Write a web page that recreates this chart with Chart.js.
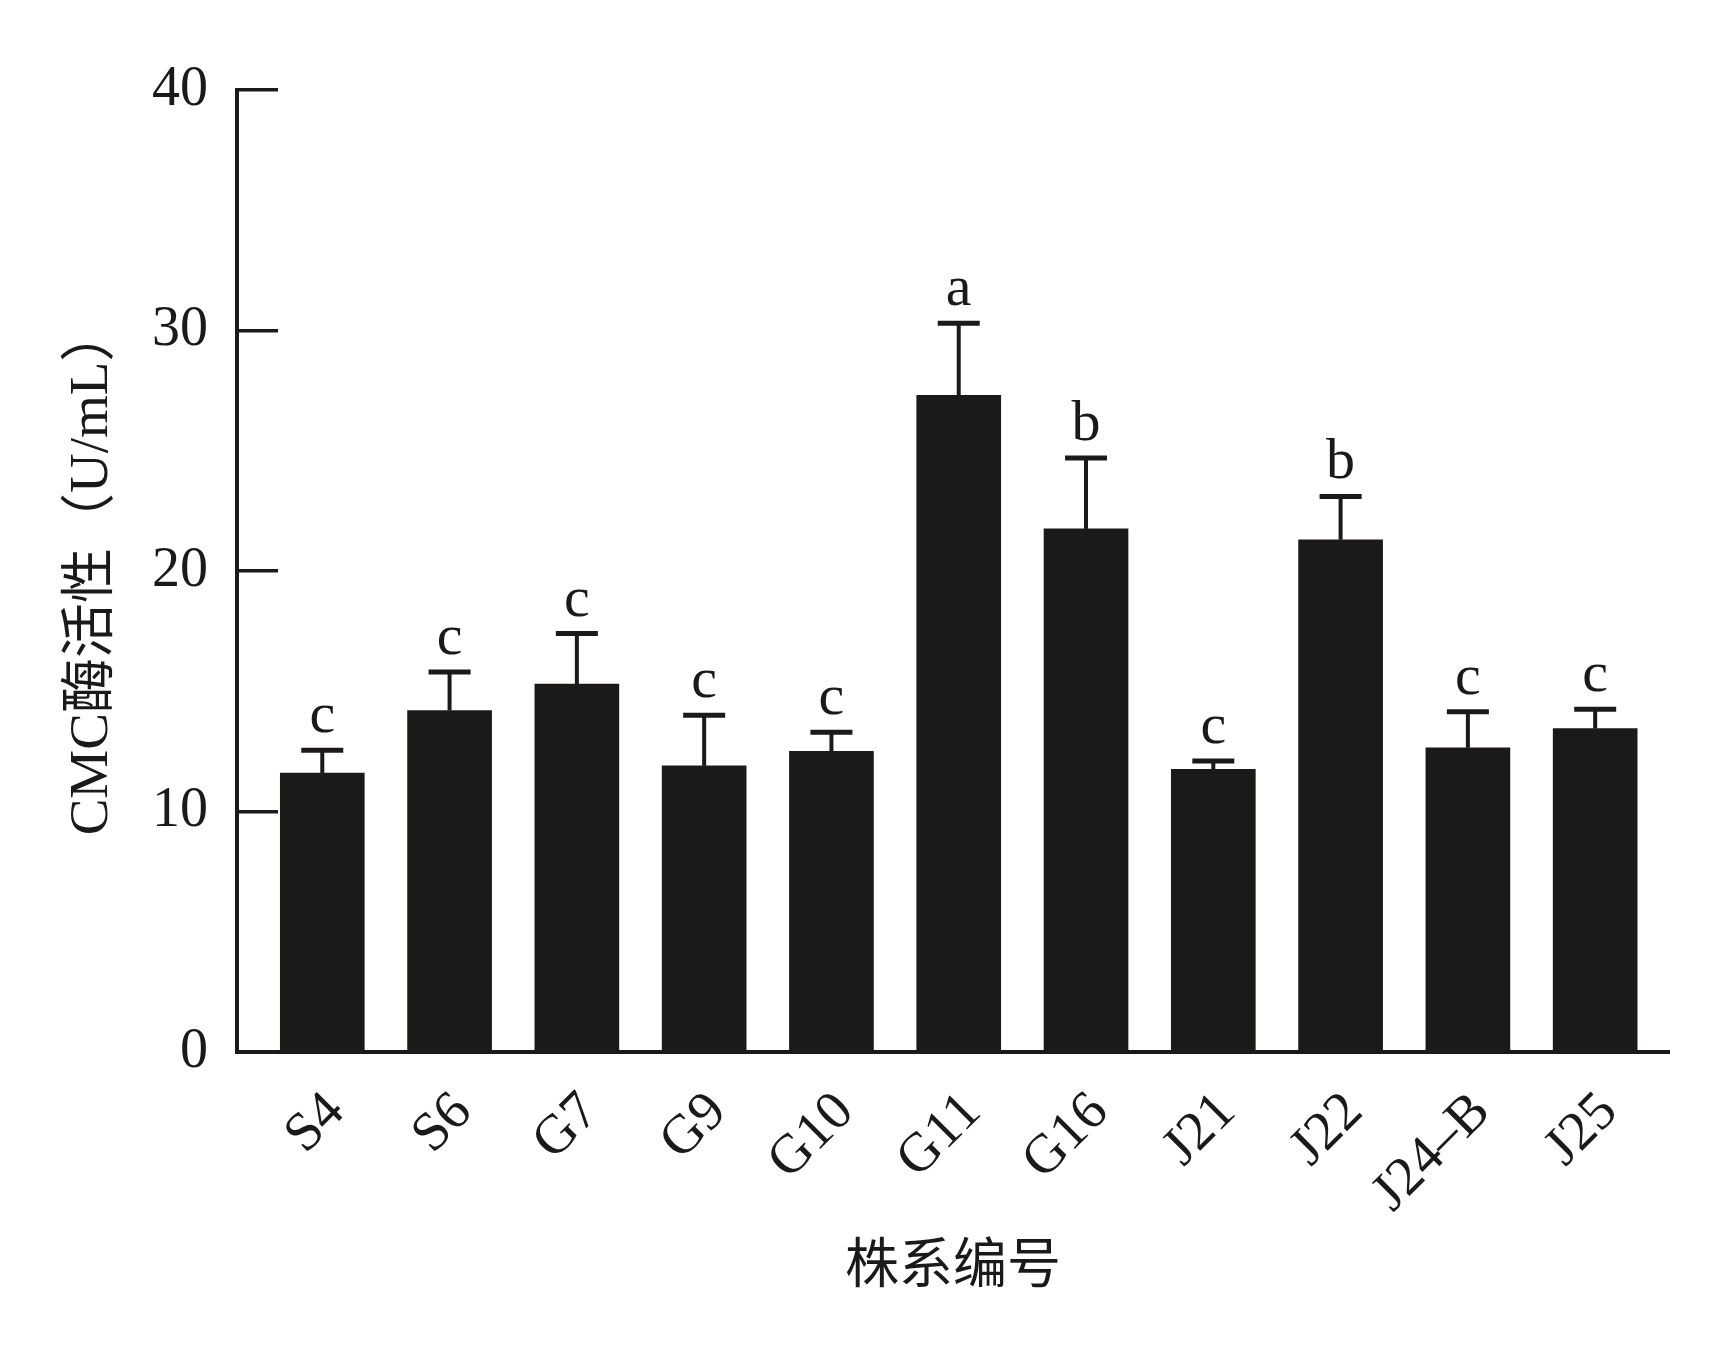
<!DOCTYPE html>
<html>
<head>
<meta charset="utf-8">
<script src="https://cdn.jsdelivr.net/npm/chart.js@4.4.1/dist/chart.umd.min.js"></script>
<style>
    html, body { margin: 0; padding: 0; background: #ffffff; }
</style>
</head>
<body>
<canvas id="canvas" width="1718" height="1358"></canvas>
<script>
var strains = ['S4', 'S6', 'G7', 'G9', 'G10', 'G11', 'G16', 'J21', 'J22', 'J24\u2013B', 'J25'];
var activity = [11.6, 14.2, 15.3, 11.9, 12.5, 27.3, 21.75, 11.75, 21.3, 12.65, 13.45];
var sd = [0.95, 1.6, 2.1, 2.1, 0.8, 3.0, 2.95, 0.35, 1.8, 1.5, 0.8];
var letters = ['c', 'c', 'c', 'c', 'c', 'a', 'b', 'c', 'b', 'c', 'c'];
var yTicks = [0, 10, 20, 30, 40];

var serif = '"Liberation Serif", "Times New Roman", "Noto Sans CJK SC", serif';
var ink = '#1b1a19';

// error bars (upper half only) and significance letters
var errorBars = {
    id: 'errorBars',
    afterDatasetsDraw: function(chart) {
        var ctx = chart.ctx;
        var xs = chart.scales.x;
        var ys = chart.scales.y;
        ctx.save();
        ctx.strokeStyle = ink;
        ctx.fillStyle = ink;
        for (var i = 0; i < activity.length; i++) {
            var x = xs.getPixelForValue(i);
            var yTop = ys.getPixelForValue(activity[i]);
            var yErr = ys.getPixelForValue(activity[i] + sd[i]);
            ctx.lineWidth = 4;
            ctx.beginPath();
            ctx.moveTo(x, yTop);
            ctx.lineTo(x, yErr);
            ctx.stroke();
            ctx.lineWidth = 5;
            ctx.beginPath();
            ctx.moveTo(x - 21, yErr);
            ctx.lineTo(x + 21, yErr);
            ctx.stroke();

            ctx.font = '58px ' + serif;
            ctx.textAlign = 'center';
            ctx.textBaseline = 'alphabetic';
            ctx.fillText(letters[i], x, yErr - 18);
        }
        ctx.restore();
    }
};

var config = {
    type: 'bar',
    data: {
        datasets: [{
            label: 'CMC',
            data: activity.map(function(v, i) { return {x: i, y: v}; }),
            backgroundColor: ink,
            borderWidth: 0,
            barThickness: 84
        }]
    },
    options: {
        responsive: false,
        devicePixelRatio: 1,
        animation: false,
        layout: {
            padding: {left: 0, right: 49, top: 90, bottom: 0}
        },
        plugins: {
            legend: { display: false },
            tooltip: { enabled: false }
        },
        scales: {
            x: {
                type: 'linear',
                offset: false,
                min: -0.67,
                max: 10.58,
                afterBuildTicks: function(scale) {
                    scale.ticks = strains.map(function(s, i) { return {value: i}; });
                },
                afterFit: function(scale) {
                    scale.height = 306;
                },
                grid: { display: false, offset: false },
                border: { display: true, color: ink, width: 4 },
                ticks: {
                    autoSkip: false,
                    minRotation: 45,
                    maxRotation: 45,
                    padding: 20,
                    labelOffset: 14,
                    color: ink,
                    font: { family: serif, size: 55 },
                    callback: function(v) { return strains[v]; }
                },
                title: {
                    display: true,
                    text: '株系编号',
                    color: ink,
                    font: { family: '"Noto Sans CJK SC", sans-serif', size: 54 },
                    padding: { top: 0, bottom: 63 }
                }
            },
            y: {
                min: 0,
                max: 40,
                afterBuildTicks: function(scale) {
                    scale.ticks = yTicks.map(function(v) { return {value: v}; });
                },
                afterFit: function(scale) {
                    scale.width = 237;
                },
                // negative tick length puts the tick marks inside the plot
                grid: {
                    drawOnChartArea: false,
                    drawTicks: true,
                    tickLength: -41,
                    color: ink,
                    lineWidth: 3.5
                },
                border: { display: true, color: ink, width: 4 },
                ticks: {
                    padding: 70,
                    color: ink,
                    font: { family: serif, size: 56, lineHeight: 0.6 }
                },
                title: {
                    display: true,
                    text: 'CMC酶活性（U/mL）',
                    color: ink,
                    font: { family: serif, size: 55 },
                    padding: { top: 60, bottom: 0 }
                }
            }
        }
    },
    plugins: [errorBars]
};

window.onload = function() {
    var ctx = document.getElementById('canvas').getContext('2d');
    window.myBar = new Chart(ctx, config);
};
</script>
</body>
</html>
